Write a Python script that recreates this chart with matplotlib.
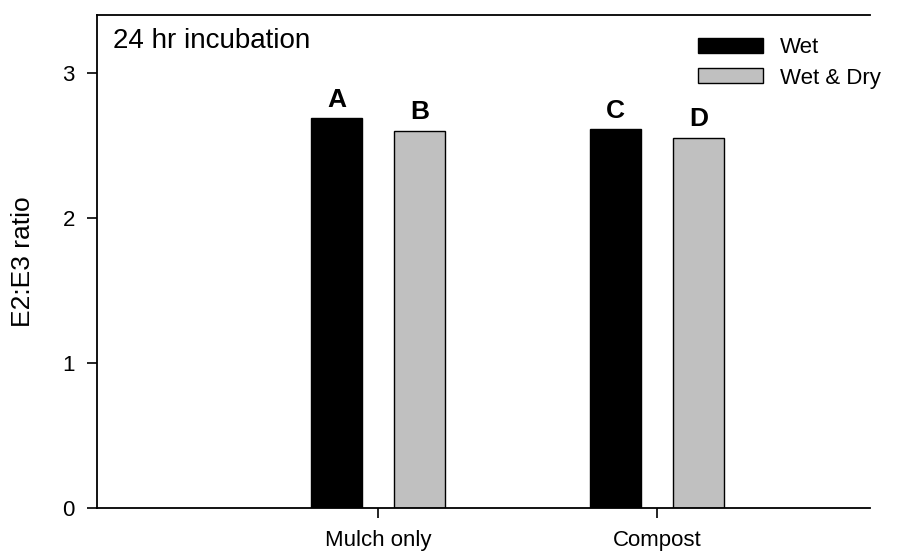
import matplotlib.pyplot as plt
import numpy as np
from matplotlib.patches import Patch

plt.rcParams['font.family'] = ['Liberation Sans', 'DejaVu Sans']

# Dados
tratamentos = ['Mulch only', 'Compost']
series = ['Wet', 'Wet & Dry']
wet = [2.687, 2.612]
wet_dry = [2.602, 2.554]
letras_wet = ['A', 'C']
letras_wet_dry = ['B', 'D']
cores = ['black', '#c0c0c0']

x = np.arange(len(tratamentos))
w = 0.183
off = 0.149

fig = plt.figure(figsize=(9.23, 5.52), dpi=100)
ax = fig.add_axes([0.1051, 0.0797, 0.8375, 0.8931])

ax.bar(x - off, wet, w, color=cores[0], edgecolor='black', linewidth=1)
ax.bar(x + off, wet_dry, w, color=cores[1], edgecolor='black', linewidth=1)

# letras acima das barras
for xi, v, t in zip(x - off, wet, letras_wet):
    ax.text(xi, v + 0.08, t, ha='center', va='baseline', fontsize=19, fontweight='bold')
for xi, v, t in zip(x + off, wet_dry, letras_wet_dry):
    ax.text(xi, v + 0.08, t, ha='center', va='baseline', fontsize=19, fontweight='bold')

ax.set_xlim(-1.007, 1.763)
ax.set_ylim(0, 3.4)
ax.set_yticks([0, 1, 2, 3])
ax.set_xticks(x)
ax.set_xticklabels(tratamentos)
ax.tick_params(axis='both', direction='out', length=7, width=1.2, labelsize=16)
ax.tick_params(axis='x', pad=9)
ax.tick_params(axis='y', pad=9)
ax.set_ylabel('E2:E3 ratio', fontsize=19, labelpad=20)

ax.spines['right'].set_visible(False)
for s in ['left', 'top', 'bottom']:
    ax.spines[s].set_linewidth(1.3)

ax.text(0.0207, 0.9325, '24 hr incubation', transform=ax.transAxes,
        ha='left', va='baseline', fontsize=20)

handles = [Patch(facecolor=cores[0], edgecolor='black'),
           Patch(facecolor=cores[1], edgecolor='black')]
ax.legend(handles, series, loc='upper left', bbox_to_anchor=(0.777, 0.955),
          frameon=False, fontsize=16, handlelength=2.93, handleheight=0.63,
          handletextpad=0.77, labelspacing=0.42, borderpad=0, borderaxespad=0)

fig.savefig('out.png', dpi=100)
